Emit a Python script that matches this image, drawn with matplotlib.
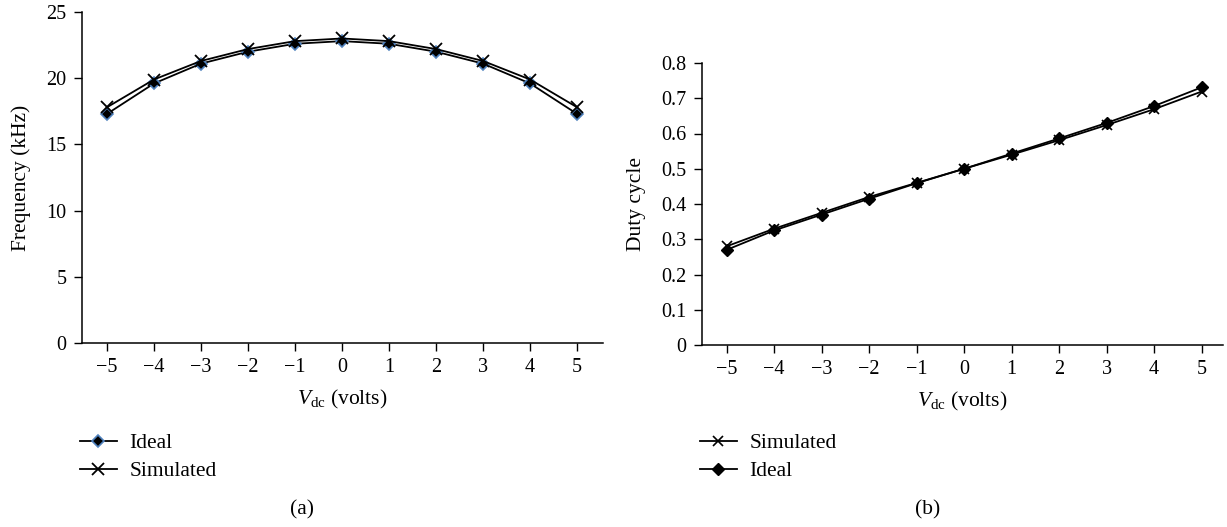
import matplotlib
matplotlib.use("Agg")
import matplotlib.pyplot as plt

plt.rcParams["font.family"] = ["Liberation Serif", "DejaVu Serif"]
plt.rcParams["mathtext.fontset"] = "custom"
plt.rcParams["mathtext.rm"] = "Liberation Serif"
plt.rcParams["mathtext.it"] = "Liberation Serif:italic"
plt.rcParams["axes.unicode_minus"] = True

# DC input voltage (volts)
vdc = [-5, -4, -3, -2, -1, 0, 1, 2, 3, 4, 5]

# (a) output frequency in kHz
freq_ideal = [17.3, 19.6, 21.1, 22.0, 22.6, 22.8, 22.6, 22.0, 21.1, 19.6, 17.3]
freq_simulated = [17.8, 19.9, 21.3, 22.2, 22.8, 23.0, 22.8, 22.2, 21.3, 19.9, 17.8]

# (b) duty cycle
duty_simulated = [0.28, 0.33, 0.375, 0.42, 0.46, 0.50, 0.54, 0.581, 0.624, 0.669, 0.719]
duty_ideal = [0.27, 0.325, 0.37, 0.415, 0.459, 0.50, 0.543, 0.586, 0.630, 0.678, 0.731]

freq_yticks = [0, 5, 10, 15, 20, 25]
duty_yticks = [0, 0.1, 0.2, 0.3, 0.4, 0.5, 0.6, 0.7, 0.8]
duty_yticklabels = ["0", "0.1", "0.2", "0.3", "0.4", "0.5", "0.6", "0.7", "0.8"]

W, H = 1227, 527
fig = plt.figure(figsize=(W / 100, H / 100), dpi=100)

TICK_FS = 14.5
LABEL_FS = 15.5
LW = 1.3


def px_axes(left, top, right, bottom):
    return fig.add_axes([left / W, 1 - bottom / H, (right - left) / W, (bottom - top) / H])


def style(ax):
    for side in ("top", "right"):
        ax.spines[side].set_visible(False)
    for side in ("left", "bottom"):
        ax.spines[side].set_linewidth(1.1)
    ax.tick_params(direction="out", length=6, width=1.0, labelsize=TICK_FS, pad=5)
    ax.set_xticks(vdc)


# ---- (a) frequency ----
ax1 = px_axes(82, 12, 603, 343)
style(ax1)
ideal_a, = ax1.plot(vdc, freq_ideal, color="black", lw=LW, marker="D", ms=6.5,
                    mfc="black", mec="#4f81bd", mew=1.2, label="Ideal")
sim_a, = ax1.plot(vdc, freq_simulated, color="black", lw=LW, marker="x", ms=9,
                  mew=1.3, label="Simulated")
ax1.set_xlim(-5.53, 5.55)
ax1.set_ylim(0, 25)
ax1.set_yticks(freq_yticks)
ax1.set_xlabel(r"$V_{\mathrm{dc}}$ (volts)", fontsize=LABEL_FS, labelpad=8)
ax1.set_ylabel("Frequency (kHz)", fontsize=LABEL_FS, labelpad=11)
fig.legend(handles=[ideal_a, sim_a], loc="upper left",
           bbox_to_anchor=(80 / W, 1 - 433 / H), frameon=False, fontsize=LABEL_FS,
           handlelength=1.7, handletextpad=0.6, labelspacing=0.38, borderpad=0,
           borderaxespad=0)
fig.text(302 / W, 1 - 510 / H, "(a)", ha="center", va="center", fontsize=LABEL_FS)

# ---- (b) duty cycle ----
ax2 = px_axes(702, 63, 1223, 345)
style(ax2)
sim_b, = ax2.plot(vdc, duty_simulated, color="black", lw=LW, marker="x", ms=7,
                  mew=1.2, label="Simulated")
ideal_b, = ax2.plot(vdc, duty_ideal, color="black", lw=LW, marker="D", ms=6,
                    mfc="black", mec="black", label="Ideal")
ax2.set_xlim(-5.52, 5.45)
ax2.set_ylim(0, 0.8)
ax2.set_yticks(duty_yticks)
ax2.set_yticklabels(duty_yticklabels)
ax2.set_xlabel(r"$V_{\mathrm{dc}}$ (volts)", fontsize=LABEL_FS, labelpad=8)
ax2.set_ylabel("Duty cycle", fontsize=LABEL_FS, labelpad=11)
fig.legend(handles=[sim_b, ideal_b], loc="upper left",
           bbox_to_anchor=(700 / W, 1 - 433 / H), frameon=False, fontsize=LABEL_FS,
           handlelength=1.7, handletextpad=0.6, labelspacing=0.38, borderpad=0,
           borderaxespad=0)
fig.text(928 / W, 1 - 510 / H, "(b)", ha="center", va="center", fontsize=LABEL_FS)

fig.savefig("out.png", dpi=100)
